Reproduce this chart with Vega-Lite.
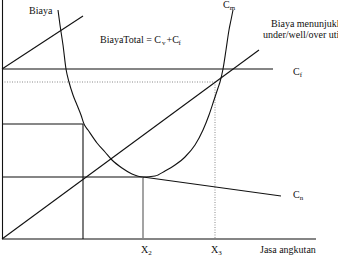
{
  "$schema": "https://vega.github.io/schema/vega-lite/v6.json",
  "width": 338,
  "height": 259,
  "padding": 0,
  "autosize": {"type": "none"},
  "background": "white",
  "config": {"view": {"stroke": null}},
  "datasets": {
    "thin": [
      {"x": 2.5, "y": 0, "x2": 2.5, "y2": 239},
      {"x": 2, "y": 0, "x2": 259, "y2": 189},
      {"x": 2, "y": 170, "x2": 83, "y2": 223},
      {"x": 2, "y": 115, "x2": 83, "y2": 115},
      {"x": 83, "y": 115, "x2": 83, "y2": 0}
    ],
    "thick": [
      {"x": 2, "y": 170, "x2": 273, "y2": 170},
      {"x": 2, "y": 62, "x2": 143, "y2": 62},
      {"x": 2, "y": 0, "x2": 316, "y2": 0}
    ],
    "thickv": [
      {"x": 143, "y": 62, "x2": 143, "y2": 0}
    ],
    "dotted": [
      {"x": 2, "y": 157, "x2": 215, "y2": 157},
      {"x": 215, "y": 157, "x2": 215, "y2": 0}
    ],
    "cm": [
      {"x": 58, "y": 229}, {"x": 60, "y": 214}, {"x": 63, "y": 194}, {"x": 66, "y": 170},
      {"x": 69, "y": 157}, {"x": 73, "y": 144}, {"x": 77, "y": 134}, {"x": 81, "y": 124},
      {"x": 84, "y": 115}, {"x": 88, "y": 109}, {"x": 97, "y": 96}, {"x": 105, "y": 87},
      {"x": 112, "y": 79}, {"x": 122, "y": 71}, {"x": 132, "y": 65}, {"x": 143, "y": 62},
      {"x": 155, "y": 63}, {"x": 165, "y": 68}, {"x": 175, "y": 74}, {"x": 185, "y": 82},
      {"x": 195, "y": 94}, {"x": 203, "y": 109}, {"x": 209, "y": 124}, {"x": 214, "y": 139},
      {"x": 218, "y": 151}, {"x": 220, "y": 157}, {"x": 223, "y": 170}, {"x": 226, "y": 189},
      {"x": 229, "y": 209}, {"x": 231, "y": 219}, {"x": 233, "y": 229}
    ],
    "cn": [
      {"x": 143, "y": 62}, {"x": 281, "y": 43}
    ],
    "labels": [
      {"x": 29, "y": 225, "t": "Biaya"},
      {"x": 100, "y": 196, "t": "BiayaTotal = C"},
      {"x": 166.5, "y": 196, "t": "+C"},
      {"x": 223, "y": 231, "t": "C"},
      {"x": 271, "y": 212, "t": "Biaya menunjukkan"},
      {"x": 263, "y": 201, "t": "under/well/over utilization"},
      {"x": 293, "y": 164, "t": "C"},
      {"x": 293, "y": 41, "t": "C"},
      {"x": 141, "y": -14, "t": "X"},
      {"x": 211, "y": -14, "t": "X"},
      {"x": 260, "y": -14, "t": "Jasa angkutan"}
    ],
    "subs": [
      {"x": 162, "y": 194, "t": "v"},
      {"x": 178.5, "y": 194, "t": "f"},
      {"x": 229.7, "y": 229, "t": "m"},
      {"x": 299.7, "y": 162, "t": "f"},
      {"x": 299.7, "y": 39, "t": "n"},
      {"x": 148.2, "y": -16, "t": "2"},
      {"x": 218.2, "y": -16, "t": "3"}
    ]
  },
  "layer": [
    {
      "data": {"name": "thick"},
      "mark": {"type": "rule", "color": "#858585", "strokeWidth": 2},
      "encoding": {
        "x": {"field": "x", "type": "quantitative", "scale": {"domain": [0, 338], "nice": false, "zero": false}, "axis": null},
        "y": {"field": "y", "type": "quantitative", "scale": {"domain": [-20, 239], "nice": false, "zero": false}, "axis": null},
        "x2": {"field": "x2"},
        "y2": {"field": "y2"}
      }
    },
    {
      "data": {"name": "thickv"},
      "mark": {"type": "rule", "color": "#858585", "strokeWidth": 1.5},
      "encoding": {
        "x": {"field": "x", "type": "quantitative", "scale": {"domain": [0, 338], "nice": false, "zero": false}, "axis": null},
        "y": {"field": "y", "type": "quantitative", "scale": {"domain": [-20, 239], "nice": false, "zero": false}, "axis": null},
        "x2": {"field": "x2"},
        "y2": {"field": "y2"}
      }
    },
    {
      "data": {"name": "dotted"},
      "mark": {"type": "rule", "color": "#8a8a8a", "strokeWidth": 1, "strokeDash": [1, 1.5]},
      "encoding": {
        "x": {"field": "x", "type": "quantitative", "scale": {"domain": [0, 338], "nice": false, "zero": false}, "axis": null},
        "y": {"field": "y", "type": "quantitative", "scale": {"domain": [-20, 239], "nice": false, "zero": false}, "axis": null},
        "x2": {"field": "x2"},
        "y2": {"field": "y2"}
      }
    },
    {
      "data": {"name": "thin"},
      "mark": {"type": "rule", "color": "#111111", "strokeWidth": 1.1},
      "encoding": {
        "x": {"field": "x", "type": "quantitative", "scale": {"domain": [0, 338], "nice": false, "zero": false}, "axis": null},
        "y": {"field": "y", "type": "quantitative", "scale": {"domain": [-20, 239], "nice": false, "zero": false}, "axis": null},
        "x2": {"field": "x2"},
        "y2": {"field": "y2"}
      }
    },
    {
      "data": {"name": "cm"},
      "mark": {"type": "line", "color": "#111111", "strokeWidth": 1.1, "interpolate": "monotone"},
      "encoding": {
        "x": {"field": "x", "type": "quantitative", "scale": {"domain": [0, 338], "nice": false, "zero": false}, "axis": null},
        "y": {"field": "y", "type": "quantitative", "scale": {"domain": [-20, 239], "nice": false, "zero": false}, "axis": null}
      }
    },
    {
      "data": {"name": "cn"},
      "mark": {"type": "line", "color": "#111111", "strokeWidth": 1.1},
      "encoding": {
        "x": {"field": "x", "type": "quantitative", "scale": {"domain": [0, 338], "nice": false, "zero": false}, "axis": null},
        "y": {"field": "y", "type": "quantitative", "scale": {"domain": [-20, 239], "nice": false, "zero": false}, "axis": null}
      }
    },
    {
      "data": {"name": "labels"},
      "mark": {"type": "text", "font": "Liberation Serif", "fontSize": 10, "align": "left", "baseline": "alphabetic", "color": "#111111"},
      "encoding": {
        "x": {"field": "x", "type": "quantitative", "scale": {"domain": [0, 338], "nice": false, "zero": false}, "axis": null},
        "y": {"field": "y", "type": "quantitative", "scale": {"domain": [-20, 239], "nice": false, "zero": false}, "axis": null},
        "text": {"field": "t"}
      }
    },
    {
      "data": {"name": "subs"},
      "mark": {"type": "text", "font": "Liberation Serif", "fontSize": 7, "align": "left", "baseline": "alphabetic", "color": "#111111"},
      "encoding": {
        "x": {"field": "x", "type": "quantitative", "scale": {"domain": [0, 338], "nice": false, "zero": false}, "axis": null},
        "y": {"field": "y", "type": "quantitative", "scale": {"domain": [-20, 239], "nice": false, "zero": false}, "axis": null},
        "text": {"field": "t"}
      }
    }
  ]
}
